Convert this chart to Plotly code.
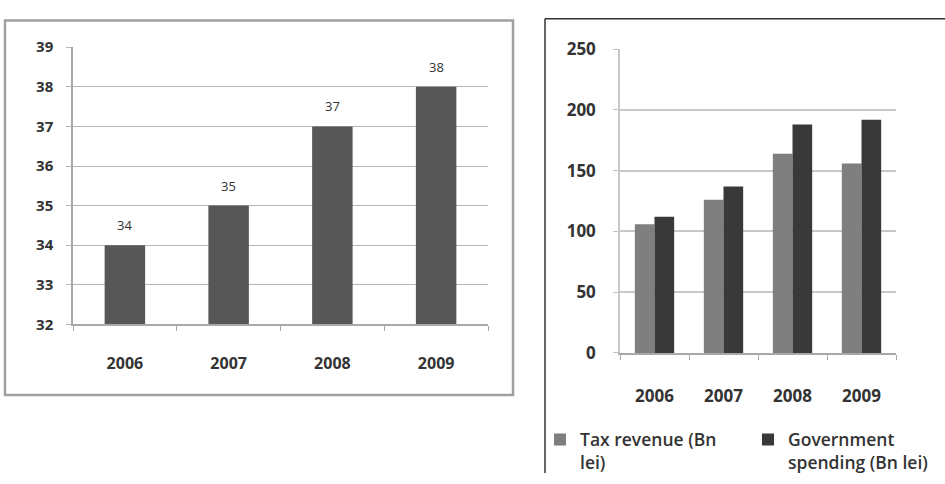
import plotly.graph_objects as go

# ---- data ----
years = ["2006", "2007", "2008", "2009"]
left_values = [34, 35, 37, 38]
tax_revenue = [106, 126, 164, 156]
gov_spending = [112, 137, 188, 192]
left_yticks = [32, 33, 34, 35, 36, 37, 38, 39]
right_yticks = [0, 50, 100, 150, 200, 250]

W, H = 945, 484
FONT = "Open Sans"
TXT = "#333333"

def px(x):
    return x / W

def py(y):
    return 1 - y / H

fig = go.Figure()

fig.add_trace(go.Bar(
    x=years, y=left_values, xaxis="x", yaxis="y",
    width=0.39, offset=-0.195,
    marker=dict(color="#575757", line=dict(width=0)),
    showlegend=False, hoverinfo="skip",
))

fig.add_trace(go.Bar(
    x=years, y=tax_revenue, xaxis="x2", yaxis="y2",
    width=0.285, offset=-0.285,
    name="Tax revenue (Bn<br>lei)", legend="legend",
    marker=dict(color="#7f7f7f", line=dict(width=0)),
))
fig.add_trace(go.Bar(
    x=years, y=gov_spending, xaxis="x2", yaxis="y2",
    width=0.285, offset=0,
    name="Government<br>spending (Bn lei)", legend="legend2",
    marker=dict(color="#393939", line=dict(width=0)),
))

# data labels for left chart (category index positions)
annotations = []
for i, v in enumerate(left_values):
    annotations.append(dict(
        x=i, y=v, xref="x", yref="y", text=str(v), showarrow=False,
        yshift=20, font=dict(family=FONT, size=13, color=TXT),
    ))

legend_common = dict(
    orientation="v", yanchor="top", xanchor="left",
    font=dict(family=FONT, size=17.5, color=TXT, weight=600),
    valign="top", itemwidth=30,
    bgcolor="rgba(0,0,0,0)",
)

fig.update_layout(
    width=W, height=H,
    margin=dict(l=0, r=0, t=0, b=0),
    paper_bgcolor="white", plot_bgcolor="white",
    barmode="overlay",
    showlegend=True,
    xaxis=dict(
        domain=[px(73), px(488)], type="category",
        ticks="outside", tickson="boundaries", ticklen=5, tickcolor="#a8a8a8",
        ticklabelstandoff=24, tickangle=0,
        tickfont=dict(family=FONT, size=16, color=TXT, weight="bold"),
        showgrid=False, showline=True, linecolor="#a8a8a8", linewidth=1.5,
        fixedrange=True,
    ),
    yaxis=dict(
        domain=[py(328), py(37)], range=[32, 39],
        tickvals=left_yticks, ticks="outside", ticklen=5, tickcolor="#b8b8b8",
        ticklabelstandoff=10,
        tickfont=dict(family=FONT, size=15, color=TXT, weight="bold"),
        showgrid=True, gridcolor="#b5b5b5", gridwidth=1.2,
        showline=True, linecolor="#a8a8a8", linewidth=1.5,
        zeroline=False, fixedrange=True,
    ),
    xaxis2=dict(
        domain=[px(620), px(896)], type="category", anchor="y2",
        ticks="outside", tickson="boundaries", ticklen=5, tickcolor="#a8a8a8",
        ticklabelstandoff=27, tickangle=0,
        tickfont=dict(family=FONT, size=17, color=TXT, weight="bold"),
        showgrid=False, showline=True, linecolor="#a8a8a8", linewidth=1.5,
        fixedrange=True,
    ),
    yaxis2=dict(
        domain=[py(358), py(39)], range=[0, 250], anchor="x2",
        tickvals=right_yticks, ticks="outside", ticklen=5, tickcolor="#c0c0c0",
        ticklabelstandoff=14,
        tickfont=dict(family=FONT, size=17, color=TXT, weight="bold"),
        showgrid=True, gridcolor="#c8c8c8", gridwidth=2,
        showline=True, linecolor="#c8c8c8", linewidth=1.5,
        zeroline=False, fixedrange=True,
    ),
    legend=dict(x=px(540), y=py(430), **legend_common),
    legend2=dict(x=px(748), y=py(430), **legend_common),
    annotations=annotations,
    shapes=[
        dict(type="rect", xref="paper", yref="paper",
             x0=px(5), x1=px(513), y0=py(402), y1=py(9),
             line=dict(color="#a0a0a0", width=2.5), layer="below"),
        dict(type="line", xref="paper", yref="paper",
             x0=px(545), x1=px(545), y0=0, y1=py(7),
             line=dict(color="#333333", width=1.5)),
        dict(type="line", xref="paper", yref="paper",
             x0=px(545), x1=1, y0=py(7), y1=py(7),
             line=dict(color="#333333", width=1.5)),
    ],
)

fig.write_html("out.html")
